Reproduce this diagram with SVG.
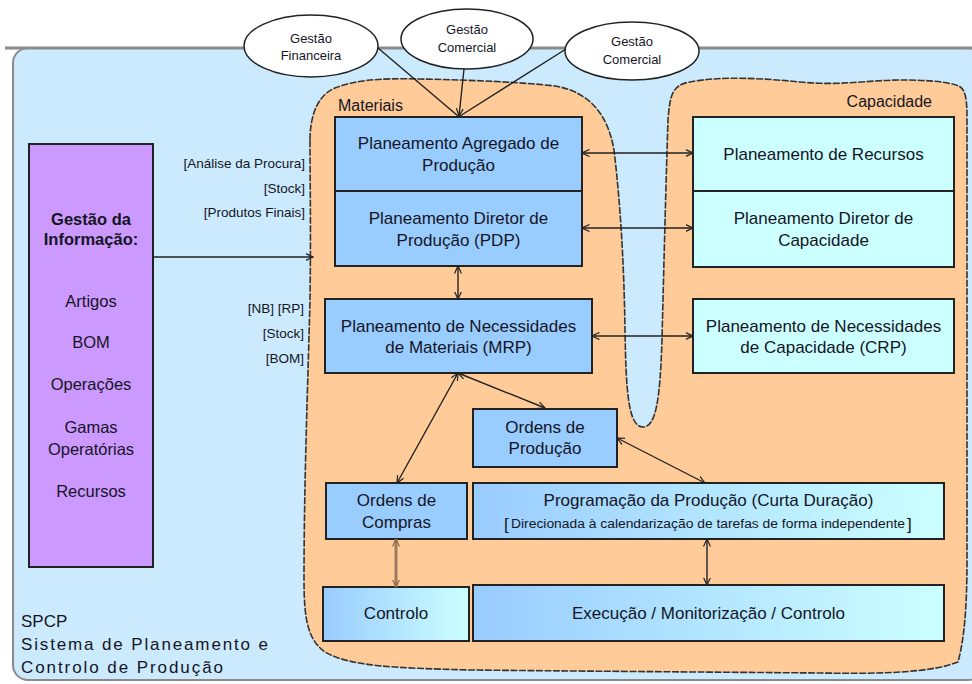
<svg xmlns="http://www.w3.org/2000/svg" width="972" height="684" viewBox="0 0 972 684">
<defs>
<style>
text{font-family:"Liberation Sans",Arial,sans-serif;fill:#15151f}
.bx{stroke:#222;stroke-width:2}
.mat{fill:#99CCFF}
.cap{fill:#CCFFFF}
.t17{font-size:17px;text-anchor:middle}
.t16{font-size:16.5px;text-anchor:middle}
.lbl{font-size:13.5px;text-anchor:end}
.ell{fill:#fff;stroke:#222;stroke-width:1.5}
.et{font-size:13px;text-anchor:middle}
.con{stroke:#222;stroke-width:1.4;fill:none}
</style>
<linearGradient id="g" x1="0" y1="0" x2="1" y2="0">
<stop offset="0" stop-color="#99CCFF"/>
<stop offset="1" stop-color="#CCFFFF"/>
</linearGradient>
<marker id="a" viewBox="0 0 8 8" refX="7.5" refY="4" markerWidth="8" markerHeight="8" markerUnits="userSpaceOnUse" orient="auto-start-reverse">
<path d="M0,0.5 L7.5,4 L0,7.5" fill="none" stroke="#222" stroke-width="1.2"/>
</marker>
<marker id="ab" viewBox="0 0 8 8" refX="7.5" refY="4" markerWidth="8" markerHeight="8" markerUnits="userSpaceOnUse" orient="auto-start-reverse">
<path d="M0,0.5 L7.5,4 L0,7.5" fill="none" stroke="#8a6a48" stroke-width="1.2"/>
</marker>
</defs>
<rect width="972" height="684" fill="#fff"/>
<g id="spcp">
<rect x="13" y="48" width="970" height="632" rx="15" fill="#CCEAFD" stroke="#8a8a8a" stroke-width="2"/>
<line x1="5" y1="48" x2="972" y2="48" stroke="#8a8a8a" stroke-width="3"/>
<text x="21" y="627" style="font-size:17px">SPCP</text>
<text x="21" y="650" style="font-size:17px" textLength="247" lengthAdjust="spacing">Sistema de Planeamento e</text>
<text x="21" y="673" style="font-size:17px" textLength="202" lengthAdjust="spacing">Controlo de Produção</text>
</g>
<g id="blob">
<path d="M310,140 C310,115 318,95 335,88 C355,80 380,78 420,79 C470,80 520,82 555,86 C590,92 608,115 614,150 C620,200 624,260 625,330 C626,390 628,427 643,427 C656,427 660,400 662,340 C664,260 666,180 668,120 C670,95 672,85 690,82 C720,76 760,78 800,82 C840,86 870,80 900,80 C930,80 948,82 959,86 C966,90 967,100 967,120 L967,560 C967,610 964,640 958,662 C930,673 880,674 820,673 C700,672 560,671 470,670 C400,668 350,667 325,652 C308,640 304,620 304,580 C304,480 308,380 310,300 C311,230 310,180 310,140 Z" fill="#FFCC99" stroke="#333" stroke-width="1.6" stroke-dasharray="7 1.5"/>
<text x="338" y="111" style="font-size:16px">Materiais</text>
<text x="932" y="107" style="font-size:16px;text-anchor:end">Capacidade</text>
</g>
<g id="gestao-info">
<rect x="29" y="144" width="124" height="423" fill="#CC99FF" class="bx"/>
<text x="91" y="225" class="t16" style="font-weight:bold">Gestão da</text>
<text x="91" y="245" class="t16" style="font-weight:bold">Informação:</text>
<text x="91" y="307" class="t16">Artigos</text>
<text x="91" y="348" class="t16">BOM</text>
<text x="91" y="390" class="t16">Operações</text>
<text x="91" y="433" class="t16">Gamas</text>
<text x="91" y="455" class="t16">Operatórias</text>
<text x="91" y="497" class="t16">Recursos</text>
</g>
<g id="labels">
<text x="305" y="168" class="lbl">[Análise da Procura]</text>
<text x="305" y="193" class="lbl">[Stock]</text>
<text x="305" y="217" class="lbl">[Produtos Finais]</text>
<text x="304" y="313" class="lbl">[NB] [RP]</text>
<text x="304" y="338" class="lbl">[Stock]</text>
<text x="304" y="363" class="lbl">[BOM]</text>
</g>
<g id="gestao-financeira">
<ellipse cx="311" cy="46" rx="67" ry="31" class="ell"/>
<text x="311" y="43" class="et">Gestão</text>
<text x="311" y="60" class="et">Financeira</text>
</g>
<g id="gestao-comercial-1">
<ellipse cx="467" cy="39" rx="66" ry="30" class="ell"/>
<text x="467" y="34" class="et">Gestão</text>
<text x="467" y="52" class="et">Comercial</text>
</g>
<g id="gestao-comercial-2">
<ellipse cx="632" cy="51" rx="67" ry="29" class="ell"/>
<text x="632" y="46" class="et">Gestão</text>
<text x="632" y="64" class="et">Comercial</text>
</g>
<g id="pap">
<rect x="335" y="117" width="247" height="74" class="bx mat"/>
<text x="458.5" y="149" class="t17">Planeamento Agregado de</text>
<text x="458.5" y="171" class="t17">Produção</text>
</g>
<g id="pdp">
<rect x="335" y="191" width="247" height="75" class="bx mat"/>
<text x="458.5" y="224" class="t17">Planeamento Diretor de</text>
<text x="458.5" y="246" class="t17">Produção (PDP)</text>
</g>
<g id="pr">
<rect x="693" y="117" width="261" height="74" class="bx cap"/>
<text x="823.5" y="160" class="t17">Planeamento de Recursos</text>
</g>
<g id="pdc">
<rect x="693" y="191" width="261" height="76" class="bx cap"/>
<text x="823.5" y="224" class="t17">Planeamento Diretor de</text>
<text x="823.5" y="246" class="t17">Capacidade</text>
</g>
<g id="crp">
<rect x="693" y="299" width="261" height="74" class="bx cap"/>
<text x="823.5" y="332" class="t17">Planeamento de Necessidades</text>
<text x="823.5" y="353" class="t17">de Capacidade (CRP)</text>
</g>
<g id="mrp">
<rect x="325" y="299" width="267" height="74" class="bx mat"/>
<text x="458.5" y="332" class="t17">Planeamento de Necessidades</text>
<text x="458.5" y="353" class="t17">de Materiais (MRP)</text>
</g>
<g id="ordens-producao">
<rect x="473" y="409" width="144" height="58" class="bx mat"/>
<text x="545" y="433" class="t17">Ordens de</text>
<text x="545" y="454" class="t17">Produção</text>
</g>
<g id="ordens-compras">
<rect x="326" y="483" width="141" height="56" class="bx mat"/>
<text x="396.5" y="506" class="t17">Ordens de</text>
<text x="396.5" y="528" class="t17">Compras</text>
</g>
<g id="programacao">
<rect x="473" y="483" width="471" height="56" class="bx" fill="url(#g)"/>
<text x="708.5" y="506" class="t17">Programação da Produção (Curta Duração)</text>
<text x="504" y="530" style="font-size:17px">[</text>
<text x="511" y="528" style="font-size:12px" textLength="394" lengthAdjust="spacingAndGlyphs">Direcionada à calendarização de tarefas de forma independente</text>
<text x="907" y="530" style="font-size:17px">]</text>
</g>
<g id="controlo">
<rect x="323" y="587" width="146" height="54" class="bx" fill="url(#g)"/>
<text x="396" y="619" class="t17">Controlo</text>
</g>
<g id="execucao">
<rect x="473" y="585" width="471" height="56" class="bx" fill="url(#g)"/>
<text x="708.5" y="619" class="t17">Execução / Monitorização / Controlo</text>
</g>
<g id="connectors">
<line x1="378" y1="48" x2="458" y2="116" class="con"/>
<line x1="464" y1="69" x2="459" y2="116" class="con" marker-end="url(#a)"/>
<line x1="566" y1="49" x2="460" y2="116" class="con"/>
<line x1="153" y1="257" x2="313" y2="257" class="con" marker-end="url(#a)"/>
<line x1="582" y1="153" x2="693" y2="153" class="con" marker-start="url(#a)" marker-end="url(#a)"/>
<line x1="582" y1="228" x2="693" y2="228" class="con" marker-start="url(#a)" marker-end="url(#a)"/>
<line x1="592" y1="336" x2="693" y2="336" class="con" marker-start="url(#a)" marker-end="url(#a)"/>
<line x1="458" y1="266" x2="458" y2="299" class="con" marker-start="url(#a)" marker-end="url(#a)"/>
<line x1="458" y1="373" x2="397" y2="483" class="con" marker-start="url(#a)" marker-end="url(#a)"/>
<line x1="458" y1="373" x2="545" y2="408" class="con" marker-start="url(#a)" marker-end="url(#a)"/>
<line x1="617" y1="438" x2="705" y2="483" class="con" marker-start="url(#a)" marker-end="url(#a)"/>
<line x1="396" y1="539" x2="396" y2="587" stroke="#9c7c5a" stroke-width="3" marker-start="url(#ab)" marker-end="url(#ab)"/>
<line x1="707" y1="539" x2="707" y2="585" class="con" marker-start="url(#a)" marker-end="url(#a)"/>
</g>
</svg>
